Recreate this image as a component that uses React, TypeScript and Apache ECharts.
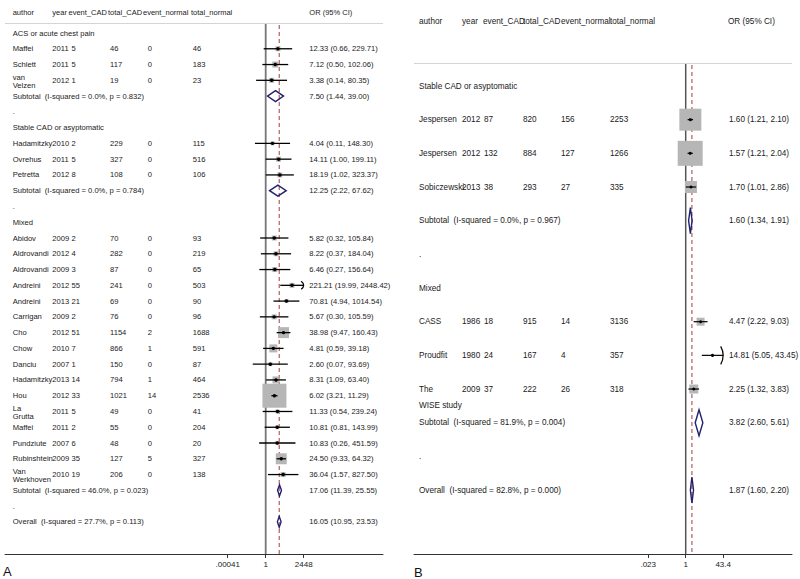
import React, { useEffect, useRef } from "react";
import * as echarts from "echarts";

const FONT = "'Liberation Sans', Arial, Helvetica, sans-serif";
const COLUMNS = ["author", "year", "event_CAD", "total_CAD", "event_normal", "total_normal", "OR (95% CI)"];

// ---------------- Panel A data ----------------
const aGroups = ["ACS or acute chest pain", "Stable CAD or asyptomatic", "Mixed"];
const aAuthor = ["Maffei", "Schlett", "van\nVelzen", "Hadamitzky", "Ovrehus", "Petretta", "Abidov", "Aldrovandi", "Aldrovandi", "Andreini", "Andreini", "Carrigan", "Cho", "Chow", "Danciu", "Hadamitzky", "Hou", "La\nGrutta", "Maffei", "Pundziute", "Rubinshtein", "Van\nWerkhoven"];
const aGroupOf = [0, 0, 0, 1, 1, 1, 2, 2, 2, 2, 2, 2, 2, 2, 2, 2, 2, 2, 2, 2, 2, 2];
const aYear = [2011, 2011, 2012, 2010, 2011, 2012, 2009, 2012, 2009, 2012, 2013, 2009, 2012, 2010, 2007, 2013, 2012, 2011, 2011, 2007, 2009, 2010];
const aEventCAD = [5, 5, 1, 2, 5, 8, 2, 4, 3, 55, 21, 2, 51, 7, 1, 14, 33, 5, 2, 6, 35, 19];
const aTotalCAD = [46, 117, 19, 229, 327, 108, 70, 282, 87, 241, 69, 76, 1154, 866, 150, 794, 1021, 49, 55, 48, 127, 206];
const aEventNormal = [0, 0, 0, 0, 0, 0, 0, 0, 0, 0, 0, 0, 2, 1, 0, 1, 14, 0, 0, 0, 5, 0];
const aTotalNormal = [46, 183, 23, 115, 516, 106, 93, 219, 65, 503, 90, 96, 1688, 591, 87, 464, 2536, 41, 204, 20, 327, 138];
const aOR = [12.33, 7.12, 3.38, 4.04, 14.11, 18.19, 5.82, 8.22, 6.46, 221.21, 70.81, 5.67, 38.98, 4.81, 2.6, 8.31, 6.02, 11.33, 10.81, 10.83, 24.5, 36.04];
const aLow = [0.66, 0.5, 0.14, 0.11, 1.0, 1.02, 0.32, 0.37, 0.27, 19.99, 4.94, 0.3, 9.47, 0.59, 0.07, 1.09, 3.21, 0.54, 0.81, 0.26, 9.33, 1.57];
const aHigh = [229.71, 102.06, 80.35, 148.3, 199.11, 323.37, 105.84, 184.04, 156.64, 2448.42, 1014.54, 105.59, 160.43, 39.18, 93.69, 63.4, 11.29, 239.24, 143.99, 451.59, 64.32, 827.5];
const aWeight = [1.9, 2.7, 1.9, 1.2, 1.9, 1.9, 1.9, 1.9, 1.9, 1.9, 1.2, 1.9, 9.2, 4.9, 1.2, 3.7, 43.9, 1.2, 1.2, 1.2, 9.2, 1.9];
const aSubHet = ["I-squared = 0.0%, p = 0.832", "I-squared = 0.0%, p = 0.784", "I-squared = 46.0%, p = 0.023"];
const aSubOR = [7.5, 12.25, 17.06];
const aSubLow = [1.44, 2.22, 11.39];
const aSubHigh = [39.0, 67.62, 25.55];
const aOverall = [16.05, 10.95, 23.53];
const aOverallHet = "I-squared = 27.7%, p = 0.113";
const aTicks = [0.00041, 1, 2448];
const aTickLabels = [".00041", "1", "2448"];

// ---------------- Panel B data ----------------
const bGroups = ["Stable CAD or asyptomatic", "Mixed"];
const bAuthor = ["Jespersen", "Jespersen", "Sobiczewski", "CASS", "Proudfit", "The\nWISE study"];
const bGroupOf = [0, 0, 0, 1, 1, 1];
const bYear = [2012, 2012, 2013, 1986, 1980, 2009];
const bEventCAD = [87, 132, 38, 18, 24, 37];
const bTotalCAD = [820, 884, 293, 915, 167, 222];
const bEventNormal = [156, 127, 27, 14, 4, 26];
const bTotalNormal = [2253, 1266, 335, 3136, 357, 318];
const bOR = [1.6, 1.57, 1.7, 4.47, 14.81, 2.25];
const bLow = [1.21, 1.21, 1.01, 2.22, 5.05, 1.32];
const bHigh = [2.1, 2.04, 2.86, 9.03, 43.45, 3.83];
const bWeight = [34.4, 44.4, 10.2, 4.5, 0.6, 5.8];
const bSubHet = ["I-squared = 0.0%, p = 0.967", "I-squared = 81.9%, p = 0.004"];
const bSubOR = [1.6, 3.82];
const bSubLow = [1.34, 2.6];
const bSubHigh = [1.91, 5.61];
const bOverall = [1.87, 1.6, 2.2];
const bOverallHet = "I-squared = 82.8%, p = 0.000";
const bTicks = [0.023, 1, 43.4];
const bTickLabels = [".023", "1", "43.4"];

const panelA = {
  groups: aGroups, author: aAuthor, groupOf: aGroupOf, year: aYear, eventCAD: aEventCAD, totalCAD: aTotalCAD,
  eventNormal: aEventNormal, totalNormal: aTotalNormal, or: aOR, low: aLow, high: aHigh, weight: aWeight,
  subHet: aSubHet, subOR: aSubOR, subLow: aSubLow, subHigh: aSubHigh, overall: aOverall, overallHet: aOverallHet,
  ticks: aTicks, tickLabels: aTickLabels,
};
const panelB = {
  groups: bGroups, author: bAuthor, groupOf: bGroupOf, year: bYear, eventCAD: bEventCAD, totalCAD: bTotalCAD,
  eventNormal: bEventNormal, totalNormal: bTotalNormal, or: bOR, low: bLow, high: bHigh, weight: bWeight,
  subHet: bSubHet, subOR: bSubOR, subLow: bSubLow, subHigh: bSubHigh, overall: bOverall, overallHet: bOverallHet,
  ticks: bTicks, tickLabels: bTickLabels,
};

// ---------------- Layout ----------------
const layoutA = {
  left: 5, right: 383, top: 23, bottom: 554, onePx: 265.7, pxPerDec: 11.21, row0: 33, rowStep: 15.77,
  font: 7.6, headFont: 7.5, headerY: 12,
  colX: [12.7, 52.3, 71.5, 110, 147.7, 192.7, 309.3],
  headX: [12.7, 52.3, 68.5, 108, 143, 191, 309.3],
  lineOffsets: [-3, 5], diamondH: 11, arrowH: 8, sizeK: 3.62, dot: 1.7, ciW: 1.3,
  nullColor: "#777777", nullW: 1.8, letter: "A", letterX: 3, letterY: 571,
};
const layoutB = {
  left: 414, right: 792, top: 63, bottom: 554, onePx: 685.7, pxPerDec: 22.9, row0: 86, rowStep: 33.67,
  font: 8.2, headFont: 8.2, headerY: 21,
  colX: [419, 462, 484, 523, 561, 610, 729],
  headX: [419, 462, 483, 523, 561, 610, 728],
  lineOffsets: [0, 16], diamondH: 26, arrowH: 18, sizeK: 3.75, dot: 1.5, ciW: 1.2,
  nullColor: "#555555", nullW: 1.5, letter: "B", letterX: 414, letterY: 572,
};

const L = (v: number) => Math.log10(v);
const fmt = (o: number, lo: number, hi: number) => `${o.toFixed(2)} (${lo.toFixed(2)}, ${hi.toFixed(2)})`;

function buildPanel(d: any, lay: any, gi: number) {
  const xLog = gi * 2;
  const xTxt = gi * 2 + 1;
  const yMin = (lay.top - lay.row0) / lay.rowStep;
  const yMax = (lay.bottom - lay.row0) / lay.rowStep;
  const xMin = (lay.left - lay.onePx) / lay.pxPerDec;
  const xMax = (lay.right - lay.onePx) / lay.pxPerDec;
  const tickL: number[] = d.ticks.map(L);
  const maxTick = Math.max(...tickL);
  const minTick = Math.min(...tickL);

  const texts: { x: number; row: number; dy: number; text: string }[] = [];
  const studies: number[][] = [];
  const diamonds: number[][] = [];
  let row = 0;
  d.groups.forEach((g: string, gIdx: number) => {
    texts.push({ x: lay.colX[0], row, dy: 0, text: g });
    row++;
    d.author.forEach((a: string, i: number) => {
      if (d.groupOf[i] !== gIdx) return;
      const lines = a.split("\n");
      if (lines.length === 1) texts.push({ x: lay.colX[0], row, dy: 0, text: a });
      else lines.forEach((ln, k) => texts.push({ x: lay.colX[0], row, dy: lay.lineOffsets[k], text: ln }));
      const vals = [d.year[i], d.eventCAD[i], d.totalCAD[i], d.eventNormal[i], d.totalNormal[i]];
      vals.forEach((v: number, c: number) => texts.push({ x: lay.colX[c + 1], row, dy: 0, text: String(v) }));
      texts.push({ x: lay.colX[6], row, dy: 0, text: fmt(d.or[i], d.low[i], d.high[i]) });
      studies.push([L(d.or[i]), row, L(d.low[i]), L(d.high[i]), lay.sizeK * Math.sqrt(d.weight[i])]);
      row++;
    });
    texts.push({ x: lay.colX[0], row, dy: 0, text: `Subtotal\u00a0 (${d.subHet[gIdx]})` });
    texts.push({ x: lay.colX[6], row, dy: 0, text: fmt(d.subOR[gIdx], d.subLow[gIdx], d.subHigh[gIdx]) });
    diamonds.push([L(d.subOR[gIdx]), row, L(d.subLow[gIdx]), L(d.subHigh[gIdx])]);
    row++;
    texts.push({ x: lay.colX[0], row, dy: 0, text: "." });
    row++;
  });
  texts.push({ x: lay.colX[0], row, dy: 0, text: `Overall\u00a0 (${d.overallHet})` });
  texts.push({ x: lay.colX[6], row, dy: 0, text: fmt(d.overall[0], d.overall[1], d.overall[2]) });
  diamonds.push([L(d.overall[0]), row, L(d.overall[1]), L(d.overall[2])]);

  const grid = {
    left: lay.left, right: 800 - lay.right, top: lay.top, bottom: 579 - lay.bottom,
    containLabel: false, outerBoundsMode: "none",
  };
  const xAxes = [
    {
      type: "value", gridIndex: gi, min: xMin, max: xMax, position: "bottom",
      axisLine: { show: true, onZero: false, lineStyle: { color: "#333333", width: 1 } },
      axisTick: { show: true, customValues: tickL, length: 4, lineStyle: { color: "#333333", width: 1 } },
      axisLabel: {
        show: true, customValues: tickL, margin: 6, fontSize: 8, color: "#222222", fontFamily: FONT,
        formatter: (v: number) => {
          let best = 0;
          tickL.forEach((t, k) => { if (Math.abs(t - v) < Math.abs(tickL[best] - v)) best = k; });
          return d.tickLabels[best];
        },
      },
      splitLine: { show: false },
    },
    { type: "value", gridIndex: gi, min: lay.left, max: lay.right, show: false },
  ];
  const yAxis = { type: "value", gridIndex: gi, inverse: true, min: yMin, max: yMax, show: false };

  const refData = [[0, 0], [L(d.overall[0]), 0], [xMin, yMin]];
  const series: any[] = [
    {
      type: "custom", xAxisIndex: xLog, yAxisIndex: gi, silent: true, z: 1,
      data: refData,
      renderItem: (params: any, api: any) => {
        const cs = params.coordSys;
        const k = params.dataIndex;
        if (k === 2) {
          return { type: "line", shape: { x1: cs.x, y1: cs.y + 0.5, x2: cs.x + cs.width, y2: cs.y + 0.5 }, style: { stroke: "#d4d4d4", lineWidth: 1 } };
        }
        const x = api.coord([api.value(0), 0])[0];
        if (k === 0) {
          return { type: "line", shape: { x1: x, y1: cs.y, x2: x, y2: cs.y + cs.height }, style: { stroke: lay.nullColor, lineWidth: lay.nullW } };
        }
        return { type: "line", shape: { x1: x, y1: cs.y + 2, x2: x, y2: cs.y + cs.height }, style: { stroke: "#a83a3a", lineWidth: 1, lineDash: [4, 3] } };
      },
    },
    {
      type: "custom", xAxisIndex: xLog, yAxisIndex: gi, silent: true, z: 2,
      data: studies,
      renderItem: (params: any, api: any) => {
        const y = api.value(1);
        const c = api.coord([api.value(0), y]);
        const hiRaw = api.value(3);
        const loRaw = api.value(2);
        const clipHi = hiRaw > maxTick;
        const clipLo = loRaw < minTick;
        const lo = api.coord([clipLo ? minTick : loRaw, y]);
        const hi = api.coord([clipHi ? maxTick : hiRaw, y]);
        const sz = api.value(4);
        const children: any[] = [
          { type: "rect", shape: { x: c[0] - sz / 2, y: c[1] - sz / 2, width: sz, height: sz }, style: { fill: "#b6b6b6" } },
          { type: "line", shape: { x1: lo[0], y1: c[1], x2: hi[0], y2: c[1] }, style: { stroke: "#000000", lineWidth: lay.ciW } },
          { type: "circle", shape: { cx: c[0], cy: c[1], r: lay.dot }, style: { fill: "#000000" } },
        ];
        const h = lay.arrowH;
        if (clipHi) {
          children.push({
            type: "bezierCurve",
            shape: { x1: hi[0] - 2.5, y1: c[1] - h / 2, cpx1: hi[0] + 2.5, cpy1: c[1], x2: hi[0] - 2.5, y2: c[1] + h / 2 },
            style: { stroke: "#000000", fill: null, lineWidth: 1.2 },
          });
        }
        if (clipLo) {
          children.push({
            type: "bezierCurve",
            shape: { x1: lo[0] + 2.5, y1: c[1] - h / 2, cpx1: lo[0] - 2.5, cpy1: c[1], x2: lo[0] + 2.5, y2: c[1] + h / 2 },
            style: { stroke: "#000000", fill: null, lineWidth: 1.2 },
          });
        }
        return { type: "group", children };
      },
    },
    {
      type: "custom", xAxisIndex: xLog, yAxisIndex: gi, silent: true, z: 3,
      data: diamonds,
      renderItem: (params: any, api: any) => {
        const y = api.value(1);
        const c = api.coord([api.value(0), y]);
        const lo = api.coord([api.value(2), y]);
        const hi = api.coord([api.value(3), y]);
        const h = lay.diamondH / 2;
        return {
          type: "polygon",
          shape: { points: [[lo[0], c[1]], [c[0], c[1] - h], [hi[0], c[1]], [c[0], c[1] + h]] },
          style: { stroke: "#22226e", fill: "none", lineWidth: 1.4 },
        };
      },
    },
    {
      type: "custom", xAxisIndex: xTxt, yAxisIndex: gi, silent: true, z: 3,
      data: texts.map((t) => [t.x, t.row]),
      renderItem: (params: any, api: any) => {
        const t = texts[params.dataIndex];
        const p = api.coord([api.value(0), api.value(1)]);
        return {
          type: "text", x: p[0], y: p[1] + t.dy,
          style: { text: t.text, fill: "#1a1a1a", fontSize: lay.font, fontFamily: FONT, align: "left", verticalAlign: "middle" },
        };
      },
    },
  ];

  const graphics: any[] = COLUMNS.map((c, k) => ({
    type: "text", x: lay.headX[k], y: lay.headerY, silent: true,
    style: { text: c, fill: "#1a1a1a", fontSize: lay.headFont, fontFamily: FONT, align: "left", verticalAlign: "middle" },
  }));
  graphics.push({
    type: "text", x: lay.letterX, y: lay.letterY, silent: true,
    style: { text: lay.letter, fill: "#111111", fontSize: 13, fontFamily: FONT, align: "left", verticalAlign: "middle" },
  });
  return { grid, xAxes, yAxis, series, graphics };
}

export default function App() {
  const ref = useRef<HTMLDivElement>(null);
  useEffect(() => {
    document.body.style.margin = "0";
    if (!ref.current) return;
    const chart = echarts.init(ref.current, undefined, { renderer: "svg" });
    const A = buildPanel(panelA, layoutA, 0);
    const B = buildPanel(panelB, layoutB, 1);
    chart.setOption({
      animation: false,
      backgroundColor: "#ffffff",
      grid: [A.grid, B.grid],
      xAxis: [...A.xAxes, ...B.xAxes],
      yAxis: [A.yAxis, B.yAxis],
      series: [...A.series, ...B.series],
      graphic: [...A.graphics, ...B.graphics],
    });
    return () => chart.dispose();
  }, []);
  return <div ref={ref} style={{ width: 800, height: 579 }} />;
}
